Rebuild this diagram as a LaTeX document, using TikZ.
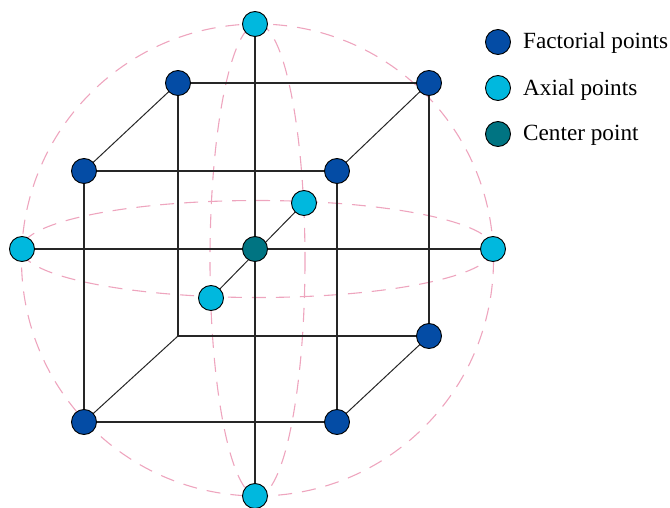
\documentclass[tikz,border=0pt]{standalone}
\usepackage{fontspec}
\setmainfont{Liberation Serif}
\usetikzlibrary{backgrounds}
\definecolor{factc}{RGB}{4,76,165}
\definecolor{axc}{RGB}{0,184,222}
\definecolor{cenc}{RGB}{0,116,130}
\definecolor{pinkc}{RGB}{238,165,190}
\tikzset{
  pt/.style={circle,draw=black,line width=0.9pt,minimum size=25pt,inner sep=0pt},
  fact/.style={pt,fill=factc},
  axial/.style={pt,fill=axc},
  cen/.style={pt,fill=cenc},
  edge/.style={line width=1.2pt,draw=black!85},
  diag/.style={line width=1pt,draw=black!85},
  sphere/.style={draw=pinkc,line width=1.1pt,dash pattern=on 14pt off 10pt},
  legtext/.style={anchor=base west,font=\fontsize{23.2}{26}\selectfont,inner sep=0pt}
}
\begin{document}
\begin{tikzpicture}[x=1pt,y=-1pt]
\useasboundingbox (0,0) rectangle (670,508);
% nodes
\coordinate (bbl) at (178,336);
\node[fact] (ftl) at (84,171) {};
\node[fact] (ftr) at (337,171) {};
\node[fact] (fbl) at (84,422) {};
\node[fact] (fbr) at (337,422) {};
\node[fact] (btl) at (178,83) {};
\node[fact] (btr) at (429,83) {};
\node[fact] (bbr) at (429,336) {};
\node[axial] (top) at (255,24) {};
\node[axial] (bot) at (255,496) {};
\node[axial] (lft) at (22,249) {};
\node[axial] (rgt) at (493,249) {};
\node[axial] (bck) at (304,203) {};
\node[axial] (frt) at (211,298) {};
\node[cen] (c) at (255,249) {};
\begin{scope}[on background layer]
% dashed sphere
\draw[sphere] (257.5,260) ellipse [x radius=236, y radius=236];
\draw[sphere] (257.5,249) ellipse [x radius=236, y radius=48.5];
\draw[sphere] (257.5,260) ellipse [x radius=47.5, y radius=236];
% cube
\draw[edge] (ftl.center) -- (ftr.center) -- (fbr.center) -- (fbl.center) -- cycle;
\draw[edge] (btl.center) -- (btr.center) -- (bbr.center) -- (bbl) -- cycle;
\draw[diag] (ftl.center) -- (btl.center);
\draw[diag] (ftr.center) -- (btr.center);
\draw[diag] (fbr.center) -- (bbr.center);
\draw[diag] (fbl.center) -- (bbl);
% axes
\draw[edge] (top.center) -- (bot.center);
\draw[edge] (lft.center) -- (rgt.center);
\draw[diag] (bck.center) -- (frt.center);
\end{scope}
% legend
\node[fact] (l1) at (498,42) {};
\node[axial] (l2) at (498,88) {};
\node[cen] (l3) at (498,134) {};
\node[legtext] (t1) at (523,49) {Factorial points};
\node[legtext] (t2) at (523,96) {Axial points};
\node[legtext] (t3) at (523,141) {Center point};
\end{tikzpicture}
\end{document}
